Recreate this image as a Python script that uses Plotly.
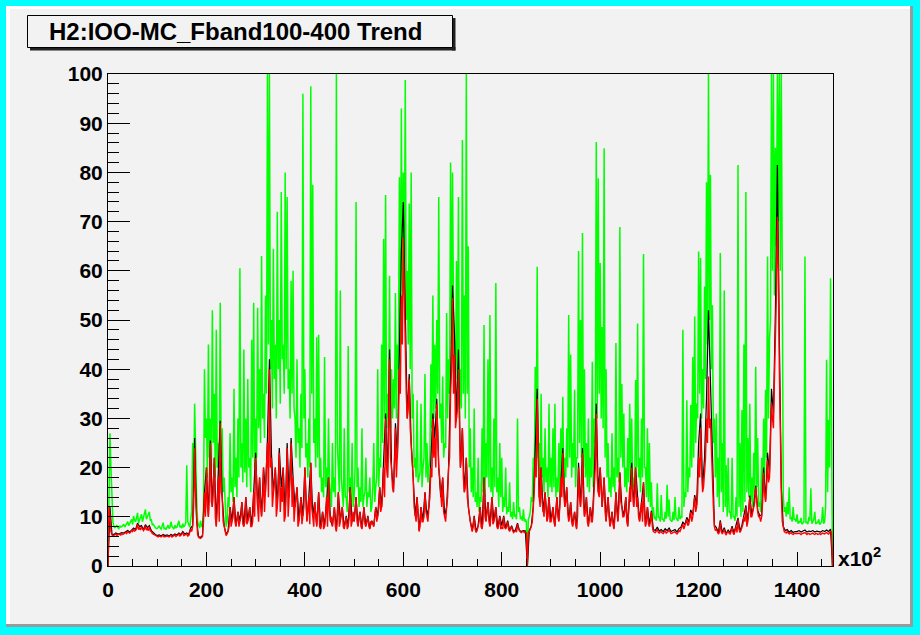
import plotly.graph_objects as go

# ---------------- data (time axis in units of 10^2) ----------------
time_x2 = list(range(0, 1473, 2))   # sampling of max / min series
time_x4 = list(range(0, 1473, 4))   # sampling of mean series

green_max = (
    [0, 12, 27, 20, 14, 9, 8, 7.8, 8, 8.3, 7.8, 7.6, 8.2, 7.9, 8, 8.4, 8.5, 7.9, 8.3, 8.6, 9, 8.2, 8.7, 9.2, 9.5,
     8.4, 10.2, 9.3, 9, 9.8, 10.8, 8.7, 9.5, 10, 10.5, 9, 9.8, 10.6, 11.5, 9.5, 10.2, 10.5, 11, 9.2, 9.5, 8.3, 8.5, 8, 7.8, 7.6]
    + [7.6, 7.9, 8.2, 7.7, 7.5, 8.1, 8.8, 7.6, 7.7, 7.4, 8, 8.3, 7.6, 7.9, 9, 8, 7.8, 7.5, 8.3, 7.8, 7.9, 8.4, 9.2, 7.9, 8.1,
       7.7, 8.6, 8, 8.2, 8.8, 20.5, 9, 8.5, 7.9, 9.5, 11, 25, 15, 33, 22, 14, 9, 8.5, 7.7, 9.2, 8.1, 8, 12, 40, 26]
    + [30, 18, 45, 22, 30, 20, 52, 25, 35, 18, 48, 20, 25, 16, 53.5, 22, 28, 15, 18, 10, 8, 9, 14, 12, 27,
       15, 18, 13, 36, 16, 22, 14, 30, 18, 60.5, 20, 25, 17, 44, 19, 30, 16, 38, 20, 22, 15, 46, 22, 53.5, 20]
    + [30, 22, 52.5, 28, 40, 25, 63, 30, 35, 26, 55, 35, 100, 45, 100, 40, 50, 32, 64.5, 38, 45, 30, 72, 40, 50,
       33, 76, 42, 45, 35, 80, 40, 75, 36, 40, 30, 58, 35, 60, 32, 30, 22, 42, 25, 28, 20, 35, 24, 96, 30]
    + [40, 22, 25, 18, 30, 20, 97.5, 35, 77.5, 25, 30, 20, 46.5, 22, 47, 18, 22, 15, 18, 14, 42.5, 16, 20, 14, 30,
       17, 15, 12, 25, 15, 18, 14, 100, 25, 20, 15, 56, 18, 15, 12, 28, 14, 14, 11, 44.7, 15, 18, 13, 25, 12]
    + [14, 20, 74, 16, 20, 12, 16, 13, 28, 12, 14, 15, 22, 12, 15, 14, 18, 11, 12, 16, 25, 13, 16, 18, 40,
       16, 22, 20, 45, 25, 66.5, 30, 75.4, 28, 35, 30, 59, 28, 40, 30, 38, 32, 55.5, 30, 45, 40, 79, 45, 93, 50]
    + [80, 55, 98.8, 50, 60, 45, 73.7, 40, 80, 30, 35, 20, 22, 18, 33.7, 17, 18, 19, 33, 16, 20, 22, 39, 18, 25,
       17, 20, 22, 41, 28, 55, 30, 45, 32, 50, 35, 75, 30, 33, 25, 38.5, 22, 25, 24, 51.4, 30, 42, 35, 82, 45]
    + [80, 50, 45, 35, 62, 38, 75, 30, 40, 32, 86.6, 35, 55, 30, 100, 35, 65, 20, 28, 15, 20, 14, 32, 13, 15,
       12, 22, 11, 14, 13, 28, 15, 49, 14, 25, 18, 42, 16, 51, 15, 20, 14, 30, 16, 57.5, 15, 18, 12, 25, 14]
    + [22, 11, 14, 12, 20, 10.5, 12, 11, 17, 10, 11, 9.5, 13, 10, 10.5, 9.5, 30, 11, 12, 9.5, 10, 9.2, 11.5, 9, 9.5,
       9, 0, 9.5, 10, 11, 14, 13, 22, 16, 40.5, 20, 60.8, 22, 25, 16, 35, 18, 22, 15, 28, 17, 20, 14, 33, 16]
    + [22, 15, 28, 16, 33, 14, 18, 15, 25, 14, 28, 17, 34.4, 16, 22, 18, 28, 20, 51, 22, 43, 18, 25, 20, 35.8,
       16, 22, 22, 64, 25, 50, 22, 67.7, 20, 40, 18, 25, 16, 30, 15, 22, 18, 41.5, 16, 30, 25, 86.2, 30, 78.8, 35]
    + [61.6, 30, 48.6, 28, 84.9, 22, 40, 18, 25, 15, 18, 14, 27, 16, 20, 15, 45.3, 18, 22, 17, 68.9, 22, 37, 20, 31,
       16, 20, 15, 26, 17, 33, 18, 30, 16, 18, 15, 37.8, 20, 49.3, 18, 22, 15, 30, 18, 63.4, 20, 20, 14, 28, 13]
    + [25, 12, 17, 10, 12, 9.5, 10, 9.2, 16.8, 9.8, 10, 9, 14.4, 9.5, 9.5, 9, 11, 9.6, 16.5, 10, 13.5, 9.4, 9.2, 9, 11,
       9.3, 14, 9.8, 9.5, 9.1, 12, 9.5, 10, 9.8, 48, 12, 15, 14, 33.7, 15, 20, 18, 32.7, 20, 42.5, 22, 50.7, 25, 33, 30]
    + [63.9, 35, 62.6, 30, 40, 32, 56.8, 38, 78, 45, 100, 50, 79.5, 40, 53, 25, 30, 18, 31, 14, 22, 12, 63.6, 15, 25,
       11, 56, 12, 20.5, 10, 22, 11, 11, 9.5, 22, 10, 10, 9.2, 14, 10, 81.5, 12, 25, 10, 31.7, 11, 45, 13, 76, 15]
    + [26, 14, 33, 13, 18, 12, 23, 15, 40.5, 16, 26, 12, 13, 11, 22, 14, 30, 18, 35.8, 22, 62.9, 30, 46, 50, 100,
       60, 100, 55, 85, 65, 100, 70, 100, 60, 100, 40, 14, 11, 12, 10, 13, 10.5, 16, 9.5, 10, 9, 12, 9.5, 9.5, 9]
    + [10.5, 8.6, 9, 8.8, 9.8, 8.5, 8.8, 9, 62.9, 8.7, 9, 8.5, 10, 9.2, 15.8, 8.6, 9, 9.5, 11, 8.5, 8.8, 8.8, 9.5, 8.4,
       8.7, 9, 12, 8.6, 9, 12, 41.9, 15, 29.7, 20, 58.5, 30, 0]
)

red_min = (
    [0, 12, 10, 7, 6.3, 6.1, 6.2, 6.4, 6.5, 6.2, 6.3, 6.5, 6.4, 6.3, 6.6, 6.4, 6.5, 6.7, 6.8, 6.6, 7, 6.8, 6.7, 6.9, 7.2,
     7, 7.5, 7.1, 7.2, 7.6, 8.5, 7.4, 7.8, 7.3, 8, 7.6, 7.2, 7.5, 8.2, 7.3, 7.6, 7.2, 8, 7.1, 7, 6.6, 6.5, 6.3, 6.2, 6.1]
    + [6, 5.9, 6.1, 6, 5.9, 6.1, 6.2, 5.9, 6, 6.1, 6.1, 6, 5.9, 6.1, 6.2, 5.9, 6, 6.2, 6.3, 6, 6.1, 6.3, 6.5, 6.1, 6.2,
       6.4, 6.8, 6.2, 6.3, 6.4, 6.5, 6.1, 6.2, 6.8, 7.5, 7, 8, 12, 24, 14, 9, 6.5, 5.8, 5.7, 5.6, 5.8, 6, 9, 15, 10]
    + [20, 12, 10, 15, 25, 13, 12, 16, 22, 10, 8, 12, 18, 9, 29, 15, 14, 9, 8, 7, 6.2, 6.5, 7, 8, 12,
       8, 9, 10, 14, 9, 8, 9.5, 11, 8, 9, 10, 13, 8.5, 8, 9, 14, 8.5, 9, 10, 12, 8, 8, 9, 15, 10]
    + [22, 14, 12, 9, 18, 12, 10, 13, 20, 11, 15, 18, 25, 14, 40, 20, 22, 12, 15, 17, 20, 10, 12, 16, 23,
       11, 16, 13, 20, 9, 10, 15, 24, 10, 14, 18, 25, 12, 18, 9, 12, 14, 16, 8, 9, 11, 14, 8.5, 10, 12]
    + [20, 12, 9, 11, 14, 8.5, 21, 12, 10, 8, 13, 9.5, 8, 11, 15, 8, 7.5, 9, 11, 7.5, 8, 10, 14, 8, 18,
       11, 9, 10, 8, 10, 12, 8, 7, 9.5, 15, 8, 9, 11, 12, 8, 7.5, 9, 10, 7.5, 8, 10, 16, 8, 9, 11]
    + [9, 11, 14, 9, 8, 10, 11, 8, 7.5, 9.5, 12, 8.5, 8, 9, 10, 8, 7.5, 9, 9, 8.5, 8, 10, 12, 9, 10,
       12, 16, 11, 12, 15, 20, 14, 30, 20, 18, 25, 42, 22, 20, 16, 15, 20, 28, 18, 22, 28, 40, 35, 55, 45]
    + [66.7, 50, 45, 35, 30, 32, 38, 28, 25, 20, 18, 12, 10, 9, 14, 10, 7, 8, 12, 9, 9, 10, 15, 11, 10,
       9, 12, 14, 20, 18, 30, 22, 26, 20, 33, 24, 20, 18, 14, 12, 18, 11, 10, 9, 12, 14, 20, 22, 35, 40]
    + [54.5, 35, 43, 28, 30, 32, 40, 25, 20, 22, 28, 18, 15, 16, 22, 14, 12, 10, 9, 8, 7, 8, 10, 7.5, 6.8,
       7.2, 8, 9, 12, 8, 7.5, 9, 18, 10, 9, 11, 13, 9, 8, 10, 14, 8.5, 9, 10, 12, 8, 7.5, 8.5, 10, 7.5]
    + [8, 7.5, 10, 7.8, 7.5, 8, 9, 7.4, 7, 7.6, 8, 7.2, 6.8, 7, 7.2, 6.9, 8.5, 7.5, 7, 6.9, 6.8, 7.1, 7, 6.8, 6.9,
       6.7, 0, 6.8, 7, 7.5, 8, 9, 12, 15, 22, 18, 34, 20, 14, 12, 20, 13, 11, 10, 15, 11, 9, 10, 14, 9]
    + [9, 10, 12, 9, 8, 11, 14, 10, 9, 12, 18, 14, 23, 15, 12, 13, 16, 11, 9, 10, 13, 9, 8, 9.5, 11,
       8.5, 7.5, 10, 20, 14, 12, 15, 23, 13, 10, 11, 14, 9, 8, 10, 12, 9, 9, 12, 18, 20, 31, 18, 15, 14]
    + [20, 14, 12, 15, 18, 11, 9, 12, 14, 10, 8, 9, 11, 8.5, 7.5, 10, 15, 11, 9, 12, 19, 13, 12, 10, 10,
       11, 14, 9, 8, 12, 16, 13, 20, 15, 12, 14, 20, 12, 14, 10, 9, 11, 13, 9, 17, 11, 8, 9, 12, 8.5]
    + [8, 9, 11, 8, 7, 6.9, 6.8, 7.1, 7.5, 6.8, 6.7, 6.9, 7, 6.7, 6.6, 6.9, 7.2, 6.7, 6.8, 7, 7.3, 6.8, 6.6, 6.7, 6.8,
       6.9, 7, 6.7, 6.5, 6.8, 7.2, 7, 7.5, 7.8, 8.5, 7.5, 8, 8.8, 9.5, 8.2, 8.5, 9.5, 11, 9, 10, 12, 14, 11, 12, 15]
    + [22, 18, 28, 20, 15, 16, 20, 22, 30, 25, 38.5, 28, 30, 22, 18, 12, 8, 7.2, 7.5, 7, 6.5, 6.8, 9, 7, 6.5,
       6.9, 7.5, 6.6, 6.3, 6.8, 7, 6.6, 6.5, 7, 7.8, 6.7, 6.4, 7.2, 8, 6.8, 9.5, 7.5, 6.8, 7.2, 8, 8.5, 10, 9, 12, 8]
    + [9, 11, 14, 10, 10, 11, 12, 13, 16, 12, 11, 10, 10, 9, 10, 13, 19, 15, 13, 16, 21.5, 17, 18, 25, 33,
       30, 28, 38, 45, 55, 71, 60, 40, 25, 15, 9, 7.5, 7, 6.8, 6.7, 7, 6.6, 6.5, 6.7, 6.8, 6.5, 6.4, 6.6, 6.6, 6.5]
    + [6.5, 6.6, 6.7, 6.5, 6.4, 6.6, 6.6, 6.7, 6.8, 6.5, 6.4, 6.6, 6.6, 6.4, 6.5, 6.6, 6.7, 6.5, 6.4, 6.6, 6.6, 6.4,
       6.5, 6.6, 6.4, 6.5, 6.7, 6.6, 6.5, 6.7, 6.8, 6.6, 6.5, 6.8, 7, 6.9, 0]
)

black_mean = (
    [0, 12, 6.5, 6.4, 6.7, 6.5, 6.6, 6.8, 6.7, 7, 7.2, 6.9, 7.4, 7.7, 7.4, 8.7, 8, 8.2, 7.4, 8.4, 7.8, 8.2, 7.2, 6.7, 6.4]
    + [6.2, 6.3, 6.1, 6.4, 6.2, 6.3, 6.1, 6.4, 6.2, 6.5, 6.3, 6.7, 6.4, 7, 6.5, 6.7, 6.4, 7.7, 8.2, 26, 9.2, 6, 5.8, 6.2, 15]
    + [20, 10, 25.5, 12, 22, 8.2, 18, 29.5, 14, 8.2, 6.4, 7.2, 12, 9.2, 14, 8.2, 11, 9.2, 13, 8.2, 14, 9.2, 12, 8.2, 15]
    + [23, 12, 18, 10.2, 20, 15, 26, 42, 23, 15, 20, 12, 24, 16, 20, 10.2, 25, 14, 26, 18, 12, 16, 9.2, 14, 10.2]
    + [20, 9.2, 14, 21, 10.2, 13, 8.2, 15, 7.7, 11, 8.2, 14, 18, 9.2, 8.2, 12, 7.2, 15, 9.2, 12, 7.7, 10.2, 8.2, 16, 9.2]
    + [9.2, 14, 8.2, 11, 7.7, 12, 8.2, 10.2, 7.7, 9.2, 8.2, 12, 10.2, 16, 12, 20, 31, 18, 44, 20, 15, 29, 22, 44, 64]
    + [74, 48, 30, 39, 25, 18, 10.2, 14, 7.2, 12, 9.2, 15, 10.2, 12, 20, 31, 26, 34, 20, 14, 18, 10.2, 12, 20, 38]
    + [57, 47, 30, 44, 20, 28, 15, 22, 12, 9.2, 7.2, 10.2, 7, 8.2, 12, 7.7, 18, 9.2, 13, 8.2, 14, 9.2, 12, 7.7, 10.2]
    + [8.2, 10.2, 7.7, 9.2, 7.2, 8.2, 7, 7.4, 8.7, 7.2, 7, 7.2, 7.1, 0, 7.2, 8.2, 12, 23, 36, 14, 20, 11, 15, 9.2, 14]
    + [9.2, 12, 8.2, 14, 9.2, 18, 24, 12, 16, 9.2, 13, 8.2, 11, 7.7, 21, 12, 24, 10.2, 14, 8.2, 12, 9.2, 18, 33, 15]
    + [20, 12, 18, 9.2, 14, 8.2, 11, 7.7, 15, 9.2, 19, 12, 10.2, 14, 8.2, 16, 21, 12, 20, 14, 9.2, 13, 17, 8.2, 12]
    + [8.4, 11.2, 7.4, 7.2, 7.9, 7.1, 7.4, 7, 7.6, 7.2, 7.7, 7, 7.2, 7.4, 6.9, 7.6, 7.9, 8.9, 8.4, 9.9, 8.9, 11.4, 10.4, 14.4, 12.4]
    + [25, 31, 16, 22, 34, 52, 37, 19, 8.3, 7.8, 6.8, 9.3, 6.8, 7.8, 6.6, 7.3, 6.8, 8.1, 6.7, 8.3, 9.8, 7.1, 8.3, 10.3, 12.3]
    + [9.3, 14.3, 10.3, 12.3, 16.3, 11.3, 10.3, 10.3, 20, 13.3, 23, 19, 36, 31, 52, 81.5, 46, 16, 8, 7.2, 7.4, 6.9, 7.2, 6.8, 7]
    + [7, 7.2, 6.9, 7.1, 7.3, 6.9, 7.1, 7, 7.2, 6.9, 7.1, 7, 6.9, 7.2, 7, 7.3, 7, 7.5, 0]
)

x_ticks = [0, 200, 400, 600, 800, 1000, 1200, 1400]
y_ticks = [0, 10, 20, 30, 40, 50, 60, 70, 80, 90, 100]
title_text = "H2:IOO-MC_Fband100-400 Trend"

# ---------------- layout geometry ----------------
W, H = 920, 635
ML, MR, MT, MB = 108, 87, 74, 69
PW, PH = W - ML - MR, H - MT - MB
FONT = "Liberation Sans, Arial, Helvetica, sans-serif"


def fx(px):
    return (px - ML) / PW


def fy(py):
    return (H - MB - py) / PH


def rect(x0, y0, x1, y1, fill=None, line=None, lw=1):
    d = dict(type="rect", xref="paper", yref="paper",
             x0=fx(x0), x1=fx(x1), y0=fy(y1), y1=fy(y0), layer="below")
    d["fillcolor"] = fill if fill else "rgba(0,0,0,0)"
    d["line"] = dict(color=line, width=lw) if line else dict(width=0)
    return d


fig = go.Figure()
for name, xs, ys, col, lw in [("max", time_x2, green_max, "#00ff00", 1.5),
                              ("mean", time_x4, black_mean, "#000000", 1.2),
                              ("min", time_x2, red_min, "#ff0000", 1.4)]:
    fig.add_trace(go.Scatter(x=xs, y=ys, mode="lines", name=name,
                             line=dict(color=col, width=lw), hoverinfo="skip"))

shapes = [
    # cyan canvas border
    rect(0, 0, W, 6, fill="#00ffff"),
    rect(0, 0, 6, H, fill="#00ffff"),
    rect(913, 0, W, H, fill="#00ffff"),
    rect(0, 627, W, H, fill="#00ffff"),
    # pad bevel
    rect(6, 6, 913, 9, fill="#ffffff"),
    rect(6, 6, 10, 627, fill="#ffffff"),
    rect(910, 6, 913, 627, fill="#9a9a9a"),
    rect(6, 624, 913, 627, fill="#9a9a9a"),
]
# title box with shadow
shapes.append(dict(type="rect", xref="paper", yref="paper",
                   x0=fx(452), x1=fx(455.5), y0=fy(50.5), y1=fy(18),
                   fillcolor="#222222", line=dict(width=0)))
shapes.append(dict(type="rect", xref="paper", yref="paper",
                   x0=fx(30), x1=fx(455.5), y0=fy(50.5), y1=fy(47),
                   fillcolor="#222222", line=dict(width=0)))
shapes.append(dict(type="rect", xref="paper", yref="paper",
                   x0=fx(27.5), x1=fx(452.5), y0=fy(47.5), y1=fy(15.5),
                   fillcolor="#f2f2f2", line=dict(color="#000000", width=1)))

annotations = [
    dict(xref="paper", yref="paper", x=fx(235.5), y=fy(31.5), xanchor="center", yanchor="middle",
         text=title_text, showarrow=False,
         font=dict(family=FONT, size=24, color="#000000", weight="bold")),
    dict(xref="paper", yref="paper", x=fx(836), y=0, xanchor="left", yanchor="bottom", yshift=-6,
         text="x10<sup>2</sup>", showarrow=False,
         font=dict(family=FONT, size=21, color="#000000", weight="bold")),
]

axis_common = dict(showgrid=False, zeroline=False, showline=True, linecolor="#000000",
                   linewidth=1, mirror=True, ticks="inside", tickcolor="#000000", tickwidth=1,
                   tickfont=dict(family=FONT, size=21, color="#000000", weight="bold"),
                   fixedrange=True)

fig.update_layout(
    width=W, height=H,
    margin=dict(l=ML, r=MR, t=MT, b=MB, pad=0),
    paper_bgcolor="#f2f2f2", plot_bgcolor="#f2f2f2",
    showlegend=False,
    shapes=shapes, annotations=annotations,
    xaxis=dict(range=[0, 1473], tickmode="array", tickvals=x_ticks,
               ticktext=[str(v) for v in x_ticks], ticklen=14, ticklabelstandoff=5,
               minor=dict(tickmode="linear", tick0=0, dtick=50, ticklen=7,
                          ticks="inside", tickcolor="#000000", tickwidth=1),
               **axis_common),
    yaxis=dict(range=[0, 100], tickmode="array", tickvals=y_ticks,
               ticktext=[str(v) for v in y_ticks], ticklen=22,
               minor=dict(tickmode="linear", tick0=0, dtick=2, ticklen=11,
                          ticks="inside", tickcolor="#000000", tickwidth=1),
               **axis_common),
)

fig.write_html("out.html", config={"displayModeBar": False})
